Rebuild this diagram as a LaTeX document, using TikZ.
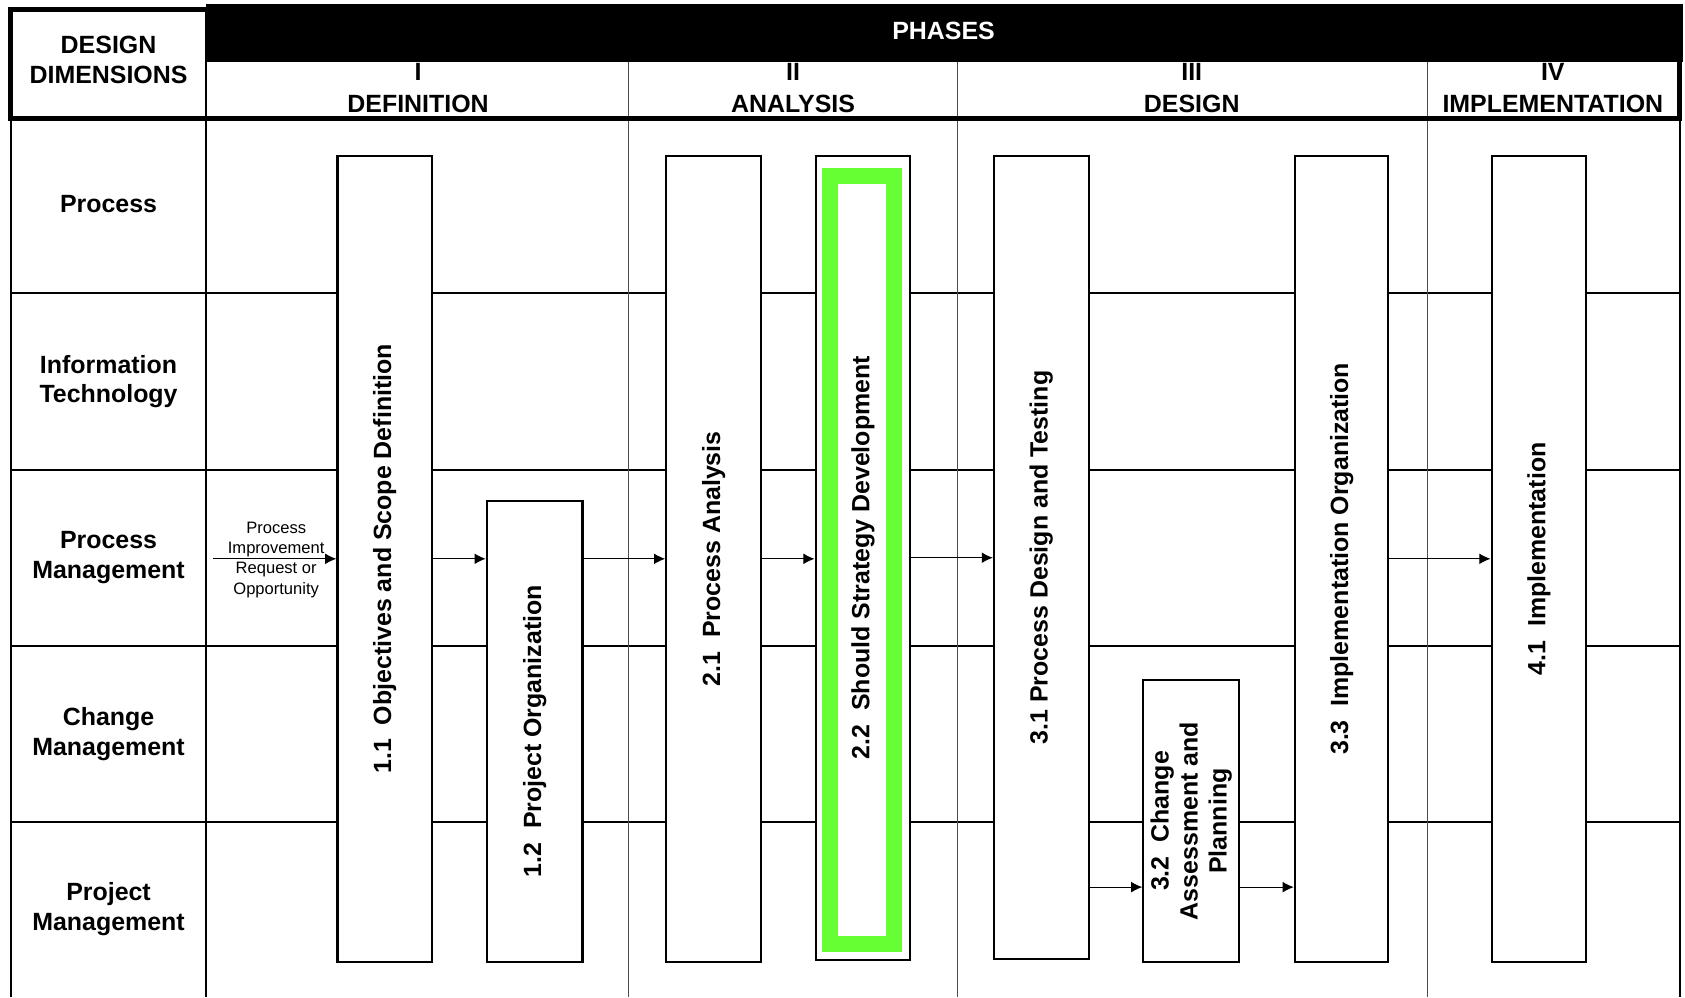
\documentclass[tikz,border=0pt]{standalone}
\usepackage{fontspec}
\setmainfont{Liberation Sans}
\usetikzlibrary{arrows.meta}
\definecolor{hlgreen}{RGB}{102,255,51}
\begin{document}
\begin{tikzpicture}[x=0.5pt,y=-0.5pt,
  lbl/.style={font=\fontsize{11.6}{13.8}\selectfont\bfseries, align=center, inner sep=0pt},
  stage/.style={draw=black, line width=1pt, fill=white, inner sep=0pt},
  stagetext/.style={font=\fontsize{11.6}{13.5}\selectfont\bfseries, rotate=90, align=center, inner sep=0pt},
  smalltext/.style={font=\fontsize{7.7}{9.35}\selectfont, align=center, inner sep=0pt},
  rowline/.style={line width=0.85pt},
  colline/.style={line width=0.5pt, draw=black!70},
  arr/.style={-{Latex[length=5.2pt,width=5pt]}, line width=0.5pt},
]
\useasboundingbox (0,0) rectangle (1568,928);
\fill[white] (0,0) rectangle (1568,928);

% grid
\foreach \y in {273,437,601,765} \draw[rowline] (10,\y) -- (1563,\y);
\foreach \x in {585,891,1328} \draw[colline] (\x,58) -- (\x,928);
\draw[line width=1pt] (10,110) -- (10,928);
\draw[line width=1pt] (1563,110) -- (1563,928);
\draw[line width=1pt] (192,9) -- (192,928);

% header
\draw[line width=2.2pt] (10,9) rectangle (1563,110);
\node[lbl, anchor=north] (n1) at (389,59) {I};
\node[lbl, anchor=north] (n2) at (738,59) {II};
\node[lbl, anchor=north] (n3) at (1109,59) {III};
\node[lbl, anchor=north] (n4) at (1445,59) {IV};
\fill[black] (192,4) rectangle (1566,58);
\node[lbl, text=white] (ph) at (878,29) {PHASES};
\node[lbl] (dd) at (101,56) {DESIGN\\DIMENSIONS};
\node[lbl, anchor=base] (p1) at (389,105) {DEFINITION};
\node[lbl, anchor=base] (p2) at (738,105) {ANALYSIS};
\node[lbl, anchor=base] (p3) at (1109,105) {DESIGN};
\node[lbl, anchor=base] (p4) at (1445,105) {IMPLEMENTATION};

% row labels
\node[lbl] (r1) at (101,190) {Process};
\node[lbl] (r2) at (101,355) {Information\\Technology};
\node[lbl] (r3) at (101,519) {Process\\Management};
\node[lbl] (r4) at (101,683) {Change\\Management};
\node[lbl] (r5) at (101,846) {Project\\Management};

% stages
\node[stage, minimum width=44pt, minimum height=375pt] (b11) at (358,520) {};
\node[stage, minimum width=44.5pt, minimum height=214.5pt] (b12) at (497.5,680.5) {};
\node[stage, minimum width=44pt, minimum height=375pt] (b21) at (664,520) {};
\node[stage, minimum width=44pt, minimum height=374pt] (b22) at (803,519) {};
\node[stage, minimum width=44pt, minimum height=373.75pt] (b31) at (969,518.75) {};
\node[stage, minimum width=44.5pt, minimum height=131pt] (b32) at (1108.5,764) {};
\node[stage, minimum width=43.5pt, minimum height=375pt] (b33) at (1248.5,520) {};
\node[stage, minimum width=44pt, minimum height=375pt] (b41) at (1432,520) {};

\draw[draw=hlgreen, line width=7.5pt] (772.5,163.5) rectangle (831.75,878.5);

\node[stagetext] (t11) at (b11) {1.1\ \ Objectives and Scope Definition};
\node[stagetext] (t12) at (b12) {1.2\ \ Project Organization};
\node[stagetext] (t21) at (b21) {2.1\ \ Process Analysis};
\node[stagetext] (t22) at (b22) {2.2\ \ Should Strategy Development};
\node[stagetext] (t31) at (b31) {3.1 Process Design and Testing};
\node[stagetext] (t32) at (b32) {3.2\ \ Change\\Assessment and\\Planning};
\node[stagetext] (t33) at (b33) {3.3\ \ Implementation Organization};
\node[stagetext] (t41) at (b41) {4.1\ \ Implementation};

% input
\node[smalltext] (req) at (257,521) {Process\\Improvement\\Request or\\Opportunity};
\coordinate (in) at (198,520);
\coordinate (low) at (0,825.5);

% connectors
\draw[arr] (in) -- (b11.west |- in);
\draw[arr] (b11.east) -- (b11.east -| b12.west);
\draw[arr] (b12.east |- b21.west) -- (b21.west);
\draw[arr] (b21.east) -- (b21.east -| b22.west);
\draw[arr] (b22.east) -- (b22.east -| b31.west);
\draw[arr] (b31.east |- low) -- (b32.west |- low);
\draw[arr] (b32.east |- low) -- (b33.west |- low);
\draw[arr] (b33.east) -- (b41.west);
\end{tikzpicture}
\end{document}
